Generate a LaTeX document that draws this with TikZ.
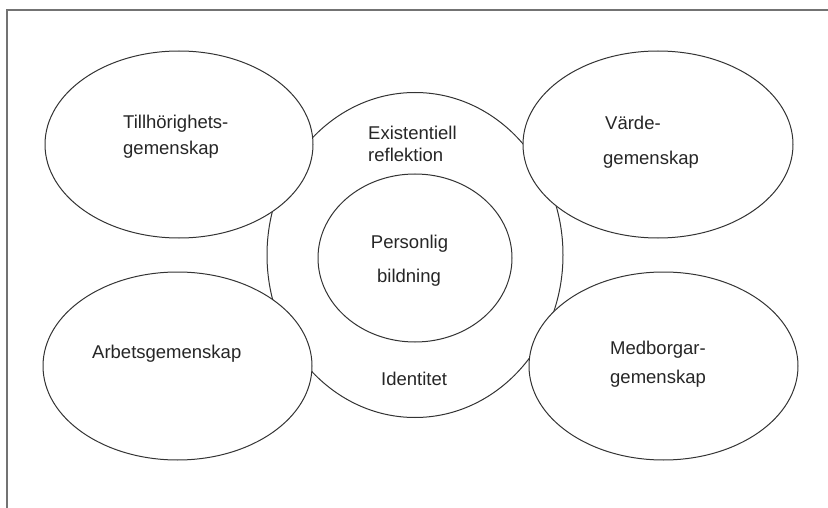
\documentclass[tikz,border=0pt]{standalone}
\usepackage{fontspec}
\setmainfont{Liberation Sans}
\usetikzlibrary{shapes.geometric}
\begin{document}
\begin{tikzpicture}[x=1pt,y=-1pt,
  ring/.style={draw=black!80, line width=1pt, fill=white, ellipse, inner sep=0pt},
  lbl/.style={anchor=base west, inner sep=0pt, font=\fontsize{18.5}{22}\selectfont, text=black!85},
  lblc/.style={lbl, anchor=base},
  frame/.style={draw=black!55, line width=2pt}]
\useasboundingbox (0,0) rectangle (828,508);
% open frame along the top and left edges
\coordinate (fr) at (828,10.5);
\coordinate (fc) at (7,10.5);
\coordinate (fb) at (7,508);
\draw[frame] (fr) -- (fc) -- (fb);

% central ring, then the four communities on top of it
\node[ring, minimum width=296pt, minimum height=325pt] (outer) at (415,255) {};
\node[ring, minimum width=268pt, minimum height=187pt] (tl) at (179,144.5) {};
\node[ring, minimum width=270pt, minimum height=187pt] (tr) at (658,144.5) {};
\node[ring, minimum width=269pt, minimum height=188pt] (bl) at (177.5,366) {};
\node[ring, minimum width=269pt, minimum height=188pt] (br) at (663.5,366) {};
\node[ring, minimum width=194pt, minimum height=168pt] (inner) at (415,258) {};

% labels
\node[lbl] (t1) at (123,129) {Tillhörighets-};
\node[lbl] (t2) at (123,155) {gemenskap};
\node[lbl] (v1) at (605,130) {Värde-};
\node[lbl] (v2) at (603,165) {gemenskap};
\node[lbl] (e1) at (368,140) {Existentiell};
\node[lbl] (e2) at (368,162) {reflektion};
\node[lblc] (p1) at (409.5,248) {Personlig};
\node[lblc] (p2) at (409,282) {bildning};
\node[lbl] (id) at (381,385) {Identitet};
\node[lbl] (ar) at (92,358) {Arbetsgemenskap};
\node[lbl] (m1) at (610,354) {Medborgar-};
\node[lbl] (m2) at (610,383) {gemenskap};
\end{tikzpicture}
\end{document}
